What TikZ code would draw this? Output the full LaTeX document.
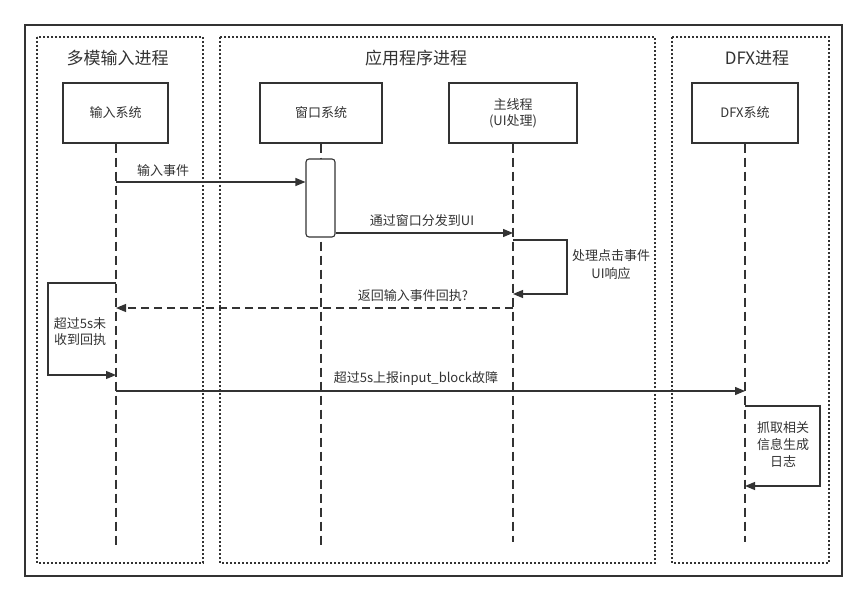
\documentclass[tikz,border=0pt]{standalone}
\usepackage{fontspec}
\setmainfont{Noto Sans CJK SC}
\usetikzlibrary{arrows.meta}
\definecolor{ln}{HTML}{333333}
\begin{document}
\begin{tikzpicture}[x=1pt,y=-1pt,
  lane/.style={draw=ln,line width=1.6pt,dash pattern=on 1.6pt off 2.4pt},
  actor/.style={draw=ln,line width=1.1pt,minimum height=60pt,font=\fontsize{13}{16}\selectfont,align=center,text=ln,inner sep=0pt},
  life/.style={draw=ln,line width=1.1pt,dash pattern=on 9pt off 5pt},
  msg/.style={draw=ln,line width=1.2pt,-{Triangle[length=10pt,width=8pt]}},
  rmsg/.style={msg,dash pattern=on 8pt off 5pt},
  lbl/.style={font=\fontsize{13}{17}\selectfont,text=ln,align=center,inner sep=1pt},
  ttl/.style={font=\fontsize{17}{20}\selectfont,text=ln,inner sep=0pt}]
\useasboundingbox (0,0) rectangle (867,601);
\fill[white] (0,0) rectangle (867,601);
% outer frame
\draw[ln,line width=2pt] (25,25) rectangle (842,576);
% lanes
\draw[lane] (37,37) rectangle (203,563);
\draw[lane] (220,37) rectangle (655,563);
\draw[lane] (672,37) rectangle (829,563);
\node[ttl] (t1) at (117.5,58) {多模输入进程};
\node[ttl] (t2) at (416,58) {应用程序进程};
\node[ttl] (t3) at (757,58) {DFX进程};
% actors
\node[actor,minimum width=105pt] (in) at (115.5,113) {输入系统};
\node[actor,minimum width=122pt] (win) at (321,113) {窗口系统};
\node[actor,minimum width=128pt,font=\fontsize{13}{16}\selectfont] (main) at (513,113) {主线程\\(UI处理)};
\node[actor,minimum width=106pt] (dfx) at (745,113) {DFX系统};
% lifelines
\coordinate (inE) at (116,547);
\coordinate (winE) at (321,547);
\coordinate (mainE) at (513,542);
\coordinate (dfxE) at (745,542);
\draw[life] (in.south -| inE) -- (inE);
\draw[life] (win.south -| winE) -- (winE);
\draw[life] (main.south -| mainE) -- (mainE);
\draw[life] (dfx.south -| dfxE) -- (dfxE);
% activation
\node[draw=ln,fill=white,line width=1.1pt,rounded corners=3pt,minimum width=29pt,minimum height=78pt,inner sep=0pt] (act) at (320.5,198) {};
% messages
\coordinate (m1) at (116,182);
\draw[msg] (m1) -- (m1 -| act.west);
\node[lbl] (l1) at (163,171) {输入事件};
\coordinate (m2) at (513,233);
\draw[msg] (m2 -| act.east) -- (m2);
\node[lbl] (l2) at (422,221) {通过窗口分发到UI};
\coordinate (m3a) at (513,240);
\coordinate (m3b) at (567,240);
\coordinate (m3c) at (567,294);
\coordinate (m3d) at (513,294);
\draw[msg] (m3a) -- (m3b) -- (m3c) -- (m3d);
\node[lbl,font=\fontsize{13}{18}\selectfont] (l3) at (611,265) {处理点击事件\\UI响应};
\coordinate (m4a) at (513,308);
\coordinate (m4b) at (116,308);
\draw[rmsg] (m4a) -- (m4b);
\node[lbl] (l4) at (413,296) {返回输入事件回执?};
\coordinate (m5a) at (116,283);
\coordinate (m5b) at (48,283);
\coordinate (m5c) at (48,375);
\coordinate (m5d) at (116,375);
\draw[msg] (m5a) -- (m5b) -- (m5c) -- (m5d);
\node[lbl,font=\fontsize{13}{16}\selectfont] (l5) at (80,332) {超过5s未\\收到回执};
\coordinate (m6a) at (116,391);
\coordinate (m6b) at (745,391);
\draw[msg] (m6a) -- (m6b);
\node[lbl] (l6) at (416,379) {超过5s上报input\_block故障};
\coordinate (m7a) at (745,406);
\coordinate (m7b) at (820,406);
\coordinate (m7c) at (820,486);
\coordinate (m7d) at (745,486);
\draw[msg] (m7a) -- (m7b) -- (m7c) -- (m7d);
\node[lbl] (l7) at (783,444) {抓取相关\\信息生成\\日志};
\end{tikzpicture}
\end{document}
